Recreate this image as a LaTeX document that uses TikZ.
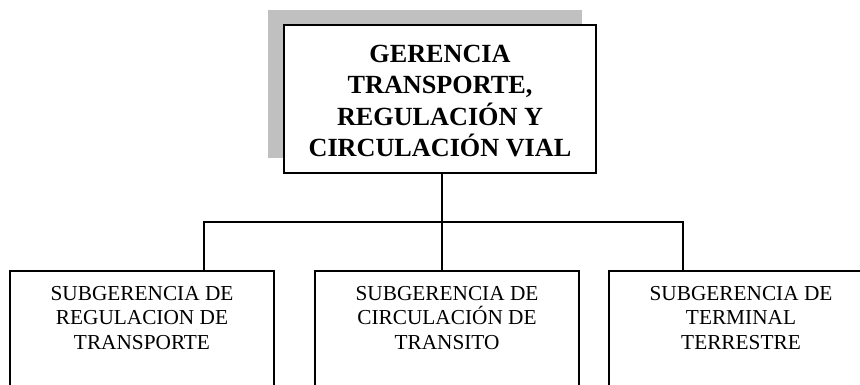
\documentclass[tikz,border=0pt]{standalone}
\usepackage{fontspec}
\setmainfont{Liberation Serif}
\definecolor{shadowgray}{RGB}{192,192,192}
\begin{document}
\begin{tikzpicture}[x=1pt,y=-1pt,
  box/.style={draw=black, line width=1.9pt, fill=white, rectangle, inner sep=0pt},
  toptext/.style={font=\fontsize{26.2}{31.5}\selectfont\bfseries, align=center, inner sep=0pt},
  subtext/.style={font=\fontsize{21.3}{24.5}\selectfont, align=center, inner sep=0pt, anchor=north},
  link/.style={draw=black, line width=1.9pt}]
\clip (0,0) rectangle (860,384);
\fill[white] (0,0) rectangle (860,384);
% shadow of top box
\fill[shadowgray] (268,10) rectangle (582,158);
% top box
\node[box, minimum width=312pt, minimum height=148pt] (top) at (440,99) {};
\node[toptext] (toplabel) at (440,101) {GERENCIA\\TRANSPORTE,\\REGULACIÓN Y\\CIRCULACIÓN VIAL};
% bottom boxes (extend beyond the lower edge)
\node[box, minimum width=264pt, minimum height=160pt, anchor=north] (L) at (142,270) {};
\node[box, minimum width=264pt, minimum height=160pt, anchor=north] (M) at (447,270) {};
\node[box, minimum width=264pt, minimum height=160pt, anchor=north] (R) at (741,270) {};
\node[subtext] (Ltext) at (142,286) {SUBGERENCIA DE\\REGULACION DE\\TRANSPORTE};
\node[subtext] (Mtext) at (447,286) {SUBGERENCIA DE\\CIRCULACIÓN DE\\TRANSITO};
\node[subtext] (Rtext) at (741,286) {SUBGERENCIA DE\\TERMINAL\\TERRESTRE};
% connectors
\coordinate (jl) at (204,222);
\coordinate (jr) at (683,222);
\coordinate (jm) at (442,222);
\draw[link] (top.south -| jm) -- (M.north -| jm);
\draw[link] (L.north -| jl) -- (jl) -- (jr) -- (R.north -| jr);
\end{tikzpicture}
\end{document}
